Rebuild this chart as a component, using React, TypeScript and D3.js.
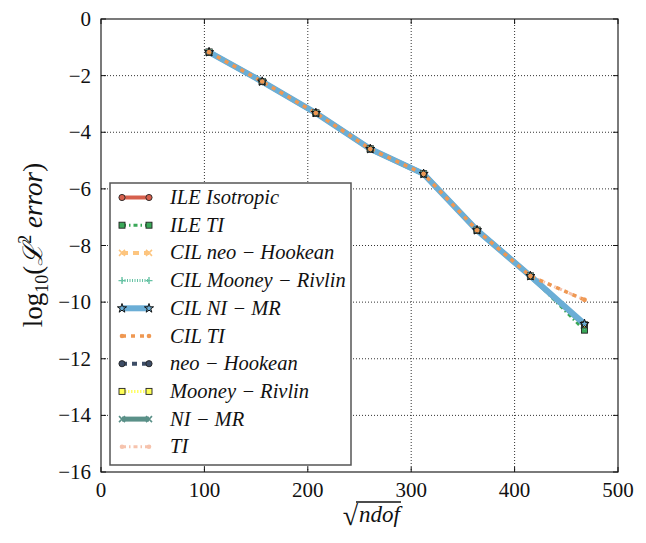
import React from "react";
import * as d3 from "d3";

const xTicks = [0, 100, 200, 300, 400, 500];
const yTicks = [0, -2, -4, -6, -8, -10, -12, -14, -16];
const sqrtNdof = [104.5, 155.9, 207.8, 260.4, 312, 363.7, 415.3, 467.6];

const ileIsotropic = [-1.17, -2.21, -3.32, -4.59, -5.47, -7.46, -9.08, -10.8];
const ileTI = [-1.17, -2.21, -3.32, -4.59, -5.47, -7.46, -9.08, -10.99];
const cilNeoHookean = [-1.17, -2.21, -3.32, -4.59, -5.47, -7.46, -9.08, -10.8];
const cilMooneyRivlin = [-1.17, -2.21, -3.32, -4.59, -5.47, -7.46, -9.08, -10.85];
const cilNIMR = [-1.17, -2.21, -3.32, -4.59, -5.47, -7.46, -9.08, -10.77];
const cilTI = [-1.17, -2.21, -3.32, -4.59, -5.47, -7.46, -9.08, -9.92];
const neoHookean = [-1.17, -2.21, -3.32, -4.59, -5.47, -7.46, -9.08, -10.8];
const mooneyRivlin = [-1.17, -2.21, -3.32, -4.59, -5.47, -7.46, -9.08, -10.8];
const niMR = [-1.17, -2.21, -3.32, -4.59, -5.47, -7.46, -9.08, -10.8];
const ti = [-1.17, -2.21, -3.32, -4.59, -5.47, -7.46, -9.08, -9.92];

type Marker = "circle" | "square" | "x" | "plus" | "star" | "dot";
interface Series {
  name: string;
  values: number[];
  color: string;
  width: number;
  dash: string;
  marker: Marker;
  mfill: string;
  order: number;
}

const series: Series[] = [
  { name: "ILE Isotropic", values: ileIsotropic, color: "#d6604d", width: 4, dash: "", marker: "circle", mfill: "#d6604d", order: 1 },
  { name: "ILE TI", values: ileTI, color: "#3aa858", width: 3, dash: "4,3,1.5,3", marker: "square", mfill: "#3aa858", order: 2 },
  { name: "CIL neo − Hookean", values: cilNeoHookean, color: "#fdc57f", width: 4, dash: "6,5", marker: "x", mfill: "#fdc57f", order: 3 },
  { name: "CIL Mooney − Rivlin", values: cilMooneyRivlin, color: "#66c2a4", width: 3, dash: "1,1.5", marker: "plus", mfill: "#66c2a4", order: 4 },
  { name: "CIL NI − MR", values: cilNIMR, color: "#6baed6", width: 6, dash: "", marker: "star", mfill: "#6baed6", order: 8 },
  { name: "CIL TI", values: cilTI, color: "#ef9852", width: 3.5, dash: "4,5", marker: "dot", mfill: "#ef9852", order: 9 },
  { name: "neo − Hookean", values: neoHookean, color: "#3d4d66", width: 4, dash: "5,5", marker: "circle", mfill: "#3d4d66", order: 5 },
  { name: "Mooney − Rivlin", values: mooneyRivlin, color: "#ffff66", width: 3, dash: "1.5,1.5", marker: "square", mfill: "#ffff55", order: 6 },
  { name: "NI − MR", values: niMR, color: "#5a9088", width: 5, dash: "", marker: "x", mfill: "#5a9088", order: 7 },
  { name: "TI", values: ti, color: "#f6c3ad", width: 3, dash: "4,3,1.5,3", marker: "dot", mfill: "#f6c3ad", order: 0 },
];

const L = 101, R = 618, T = 19, B = 472;
const x = d3.scaleLinear().domain([0, 500]).range([L, R]);
const y = d3.scaleLinear().domain([-16, 0]).range([B, T]);

function MarkerShape({ m, cx, cy, fill, color }: { m: Marker; cx: number; cy: number; fill: string; color: string }) {
  const s = 3;
  switch (m) {
    case "circle":
      return <circle cx={cx} cy={cy} r={3.1} fill={fill} stroke="#222" strokeWidth={0.9} />;
    case "square":
      return <rect x={cx - s} y={cy - s} width={2 * s} height={2 * s} fill={fill} stroke="#222" strokeWidth={0.9} />;
    case "x":
      return (
        <path d={`M${cx - s},${cy - s}L${cx + s},${cy + s}M${cx - s},${cy + s}L${cx + s},${cy - s}`} stroke={color} strokeWidth={1.6} />
      );
    case "plus":
      return <path d={`M${cx - s - 0.5},${cy}L${cx + s + 0.5},${cy}M${cx},${cy - s - 0.5}L${cx},${cy + s + 0.5}`} stroke={color} strokeWidth={1.4} />;
    case "star": {
      const sym = d3.symbol().type(d3.symbolStar).size(26)();
      return <path d={sym || ""} transform={`translate(${cx},${cy})`} fill={fill} stroke="#111" strokeWidth={1} />;
    }
    case "dot":
      return <circle cx={cx} cy={cy} r={2.3} fill={fill} stroke="none" />;
  }
  return null;
}

export default function App() {
  const line = d3
    .line<number>()
    .x((_, i) => x(sqrtNdof[i]))
    .y((d) => y(d));
  const drawOrder = [...series].sort((a, b) => a.order - b.order);
  const legendTop = 183;
  const legendStep = 27.7;
  const legendFirst = 197.5;
  const serif = "'Liberation Serif', 'DejaVu Serif', serif";
  return (
    <svg width={646} height={543} style={{ position: "fixed", left: 0, top: 0, background: "#fff" }} fontFamily={serif}>
      <rect x={0} y={0} width={646} height={543} fill="#fff" />
      {/* grid */}
      {xTicks.slice(1, -1).map((t) => (
        <line key={"gx" + t} x1={x(t)} x2={x(t)} y1={T} y2={B} stroke="#333" strokeWidth={1} strokeDasharray="1,2" />
      ))}
      {yTicks.slice(1, -1).map((t) => (
        <line key={"gy" + t} x1={L} x2={R} y1={y(t)} y2={y(t)} stroke="#333" strokeWidth={1} strokeDasharray="1,2" />
      ))}
      {/* series */}
      {drawOrder.map((s) => (
        <path key={"l" + s.name} d={line(s.values) || ""} fill="none" stroke={s.color} strokeWidth={s.width} strokeDasharray={s.dash || undefined} />
      ))}
      {drawOrder.map((s) => (
        <g key={"m" + s.name}>
          {s.values.map((v, i) => (
            <MarkerShape key={i} m={s.marker} cx={x(sqrtNdof[i])} cy={y(v)} fill={s.mfill} color={s.color} />
          ))}
        </g>
      ))}
      {/* frame */}
      <rect x={L} y={T} width={R - L} height={B - T} fill="none" stroke="#222" strokeWidth={1.2} />
      {/* ticks */}
      {xTicks.map((t) => (
        <g key={"tx" + t}>
          <line x1={x(t)} x2={x(t)} y1={B} y2={B - 5} stroke="#111" strokeWidth={1} />
          <line x1={x(t)} x2={x(t)} y1={T} y2={T + 5} stroke="#111" strokeWidth={1} />
          <text x={x(t)} y={B + 25} fontSize={21} textAnchor="middle" fill="#111">
            {t}
          </text>
        </g>
      ))}
      {yTicks.map((t) => (
        <g key={"ty" + t}>
          <line x1={L} x2={L + 5} y1={y(t)} y2={y(t)} stroke="#111" strokeWidth={1} />
          <line x1={R} x2={R - 5} y1={y(t)} y2={y(t)} stroke="#111" strokeWidth={1} />
          <text x={L - 10} y={y(t) + 7} fontSize={21} textAnchor="end" fill="#111">
            {t < 0 ? "\u2212" + Math.abs(t) : t}
          </text>
        </g>
      ))}
      {/* legend */}
      <rect x={110} y={legendTop} width={241} height={282} fill="#fff" stroke="#555" strokeWidth={1.5} />
      {series.map((s, i) => {
        const ly = legendFirst + i * legendStep;
        return (
          <g key={"lg" + s.name}>
            <line x1={122} x2={149} y1={ly} y2={ly} stroke={s.color} strokeWidth={s.width} strokeDasharray={s.dash || undefined} />
            <MarkerShape m={s.marker} cx={122} cy={ly} fill={s.mfill} color={s.color} />
            <MarkerShape m={s.marker} cx={149} cy={ly} fill={s.mfill} color={s.color} />
            <text x={170} y={ly + 6.5} fontSize={20.5} fontStyle="italic" fill="#111">
              {s.name}
            </text>
          </g>
        );
      })}
      {/* x label */}
      <g transform="translate(357,522)">
        <text x={1} y={3} fontSize={28} textAnchor="end" fill="#111">√</text>
        <text x={2} y={0} fontSize={23} fontStyle="italic" fill="#111">ndof</text>
        <line x1={-1} x2={44} y1={-20} y2={-20} stroke="#111" strokeWidth={1.5} />
      </g>
      {/* y label */}
      <text transform={`translate(42,245) rotate(-90)`} fontSize={27} textAnchor="middle" fill="#111">
        <tspan>log</tspan>
        <tspan fontSize={18} dy={6}>10</tspan>
        <tspan dy={-6}>(</tspan>
        <tspan fontFamily="'DejaVu Serif', serif" fontStyle="italic">ℒ</tspan>
        <tspan fontSize={18} dy={-11}>2</tspan>
        <tspan dy={11} fontStyle="italic"> error</tspan>
        <tspan>)</tspan>
      </text>
    </svg>
  );
}
